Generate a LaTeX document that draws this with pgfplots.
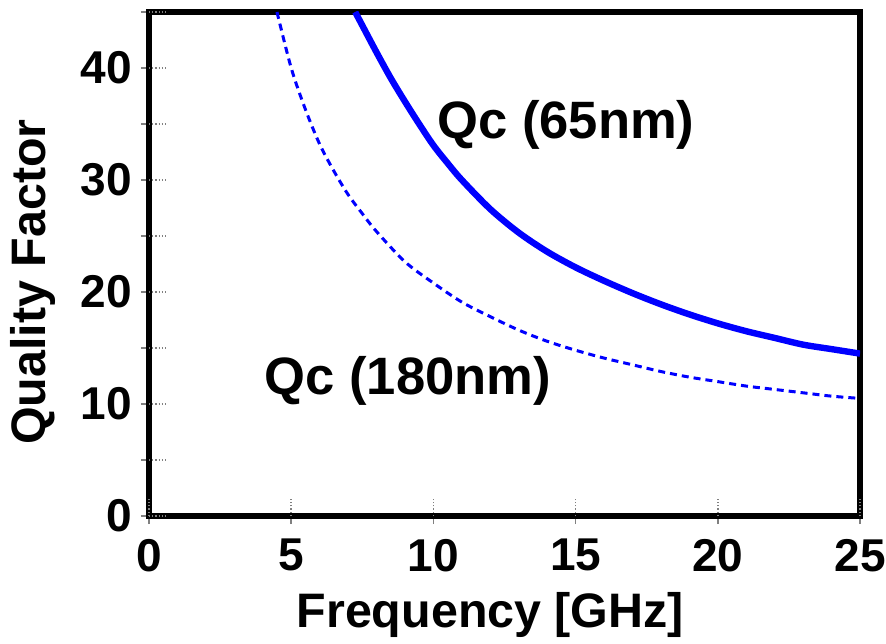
\documentclass[border=0pt]{standalone}
\usepackage{pgfplots}
\pgfplotsset{compat=1.18}
\usepackage{fontspec}
\setmainfont{Liberation Sans}
\begin{document}
\begin{tikzpicture}
\path[use as bounding box] (-74.5pt,-63.5pt) rectangle (368.5pt,258pt);
\begin{axis}[
  at={(0pt,0pt)}, anchor=south west,
  scale only axis, width=355.5pt, height=252pt,
  xmin=0, xmax=25, ymin=0, ymax=45,
  axis line style={line width=3pt, black},
  xtick={0,5,...,25}, ytick={0,10,...,40},
  minor ytick={5,15,...,45},
  xtick pos=bottom, ytick pos=left,
  tick align=outside, major tick length=4pt, minor tick length=4pt,
  tick style={gray, line width=0.8pt},
  extra x ticks={0,5,...,25}, extra x tick labels={},
  extra y ticks={0,5,...,45}, extra y tick labels={},
  extra tick style={tick align=inside, major tick length=8.5pt, densely dotted, gray!70!black, line width=0.6pt, grid=none},
  /pgf/number format/assume math mode=true,
  ticklabel style={font=\fontsize{23}{26}\selectfont\bfseries},
  yticklabel style={xshift=-1pt},
  xticklabel style={yshift=-4pt},
  xlabel={Frequency [GHz]},
  ylabel={Quality Factor},
  label style={font=\fontsize{24.2}{28}\selectfont\bfseries},
  xlabel style={at={(axis description cs:0.48,0)}, anchor=center, yshift=-49.5pt},
  ylabel style={at={(axis description cs:0,0.464)}, anchor=center, yshift=58pt},
  clip=true,
]
\addplot[blue, line width=3.2pt, smooth] coordinates {
(7.25,45.0) (7.5,43.8) (8,41.4) (8.5,39.1) (9,37.0) (9.5,35.0) (10,33.1) (10.5,31.5)
(11,30.0) (12,27.4) (13,25.3) (14,23.6)
(15,22.2) (16,21.0) (17,19.9) (18,18.9) (19,18.0) (20,17.2) (21,16.5) (22,15.9)
(23,15.3) (24,14.9) (25,14.5)};
\addplot[blue, line width=1.5pt, dash pattern=on 3.5pt off 2.5pt, smooth] coordinates {
(4.5,45) (5,40.0) (5.5,36.3) (6,33.2) (6.5,30.8) (7,28.7) (7.5,27.0) (8,25.4)
(9,22.7) (10,20.8) (11,19.1) (12,17.8) (13,16.6) (14,15.6) (15,14.8) (16,14.1)
(17,13.5) (18,12.9) (19,12.4) (20,12.0) (21,11.6) (22,11.3) (23,11.0) (24,10.7) (25,10.5)};
\node[font=\fontsize{26.3}{30}\selectfont\bfseries] at (axis cs:14.66,34.9) {Qc (65nm)};
\node[font=\fontsize{26.3}{30}\selectfont\bfseries] at (axis cs:9.1,12.1) {Qc (180nm)};
\end{axis}
\end{tikzpicture}
\end{document}
